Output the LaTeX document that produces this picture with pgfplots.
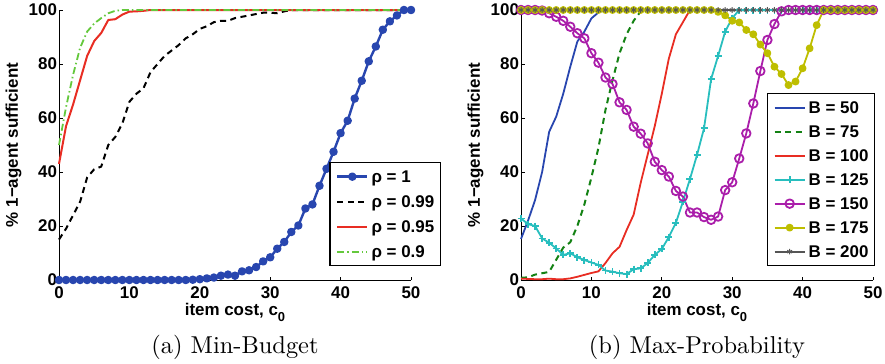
\documentclass[border=0pt]{standalone}
\usepackage{fontspec}
\usepackage{pgfplots}
\pgfplotsset{compat=1.18}
\newfontfamily\hv{Liberation Sans}
\definecolor{cblue}{RGB}{40,70,175}
\definecolor{cgreen}{RGB}{20,130,20}
\definecolor{cred}{RGB}{232,45,35}
\definecolor{ccyan}{RGB}{40,190,190}
\definecolor{cmag}{RGB}{170,30,170}
\definecolor{cyel}{RGB}{190,190,0}
\definecolor{cgray}{RGB}{85,85,85}
\definecolor{clgreen}{RGB}{100,200,60}
\newcommand{\tf}{\hv\bfseries\fontsize{17}{19}\selectfont}
\newcommand{\lf}{\hv\bfseries\fontsize{17}{19}\selectfont}
\pgfplotsset{
 myaxis/.style={
   scale only axis, width=352bp, height=270bp,
   xmin=0,xmax=50,ymin=0,ymax=100,
   xtick={0,10,...,50}, ytick={0,20,...,100},
   axis lines=left, axis line style={-, black, line width=1bp},
   tick align=inside, major tick length=3.5bp, tick style={black, line width=1bp},
   ticklabel style={font=\tf},
   /pgf/number format/assume math mode=true,
   xticklabel style={yshift=-3bp},
   yticklabel style={xshift=1.5bp},
   xlabel={item cost, c\raisebox{-6bp}{\fontsize{13}{13}\selectfont 0}},
   ylabel={\% 1−agent sufficient},
   label style={font=\lf},
   xlabel style={at={(axis description cs:0.5,0)}, anchor=base, yshift=-35bp},
   ylabel style={at={(axis description cs:-0.129,0.5)}, anchor=center},
   clip=false,
   legend cell align=left,
   legend style={font=\lf, draw=black, line width=1.3bp, inner xsep=6bp, inner ysep=6bp,
     column sep=3bp, nodes={inner sep=0pt, text height=14bp, text depth=2bp}},
   legend image code/.code={\draw[mark repeat=2, mark phase=2, #1] plot coordinates {(0bp,0bp) (15bp,0bp) (30bp,0bp)};},
   every axis plot/.append style={line join=round},
 }
}
\begin{document}
\begin{tikzpicture}
\useasboundingbox (0,0) rectangle (885bp,-364bp);
\begin{axis}[myaxis, at={(59bp,-280bp)}, anchor=south west,
  legend style={at={(axis description cs:1.085,0.437)}, anchor=north east, row sep=9bp}]
\addplot[cblue, line width=2.4bp, mark=*, mark size=3bp] coordinates {
(0,0)(1,0)(2,0)(3,0)(4,0)(5,0)(6,0)(7,0)(8,0)(9,0)(10,0)(11,0)(12,0)(13,0)(14,0)(15,0)(16,0)(17,0)(18,0)
(19,0.1)(20,0.3)(21,0.6)(22,0.9)(23,1.6)(24,2.0)(25,1.6)(26,3.2)(27,3.6)(28,4.8)(29,6.9)(30,8.4)
(31,11.6)(32,14.1)(33,17.8)(34,20.2)(35,26.5)(36,28.0)(37,34.9)(38,41.2)(39,47.5)(40,54.4)
(41,59.0)(42,67.2)(43,73.8)(44,81.0)(45,86.5)(46,92.7)(47,95.8)(48,98.0)(49,100)(50,100)};
\addplot[black, line width=2bp, dash pattern=on 6bp off 4.5bp] coordinates {
(0,15)(1,19)(2,24)(3,29)(4,38)(5,41)(6,42)(7,50)(8,53)(9,58)(10,66)(11,69)(12,71)(13,77)(14,80)
(15,83)(16,85)(17,87)(18,89.5)(19,91)(20,93)(21,94)(22,95.5)(23,96)(24,96)(25,97)(26,97.5)(27,98)
(28,98.5)(29,99)(30,99)(31,98.8)(32,99.5)(33,100)(34,100)(40,100)(45,100)(50,100)};
\addplot[cred, line width=2bp] coordinates {
(0,43)(1,57)(2,65)(3,74)(4,83)(5,88.5)(6,91.5)(7,96.3)(8,96.6)(9,98.3)(10,99.4)(11,99.5)(12,99.7)
(13,100)(20,100)(30,100)(40,100)(50,100)};
\addplot[clgreen, line width=1.8bp, dash pattern=on 7bp off 3bp on 1.5bp off 3bp] coordinates {
(0,50)(1,64)(2,76)(3,86)(4,92)(5,95)(6,97)(7,98.8)(8,99.7)(9,100)(20,100)(30,100)(40,100)(50,100)};
\legend{ρ = 1, ρ = 0.99, ρ = 0.95, ρ = 0.9}
\node[anchor=base, scale=2.45] at (axis cs:25,-27.4) {(a) Min-Budget};
\end{axis}
\begin{axis}[myaxis, at={(521bp,-280bp)}, anchor=south west,
  legend style={at={(axis description cs:1.006,0.6926)}, anchor=north east, row sep=8bp}]
\addplot[cblue, line width=1.8bp] coordinates {
(0,15.2)(1,22)(2,29.6)(3,40)(4,54.9)(5,60.5)(6,69)(7,79)(8,88.3)(9,92)(10,96.9)(11,99.1)(12,100)
(20,100)(30,100)(40,100)(50,100)};
\addplot[cgreen, line width=2bp, dash pattern=on 6bp off 4.5bp] coordinates {
(0,0.8)(1,1)(2,2)(3,2.5)(4,3)(5,7.5)(6,12)(7,14)(8,20)(9,28)(10,38)(11,49)(12,63)(13,74)(14,84)
(15,91)(16,96)(17,99.5)(18,100)(30,100)(40,100)(50,100)};
\addplot[cred, line width=1.8bp] coordinates {
(0,0.5)(1,0.4)(2,0.3)(3,0.3)(4,0.5)(5,0.3)(6,0.3)(7,0.6)(8,1.2)(9,1.9)(10,2.6)(11,3.2)(12,6.3)
(13,9.9)(14,12.3)(15,18.5)(16,24.2)(17,36)(18,46.5)(19,57)(20,69)(21,82)(22,91)(23,95.5)(24,100)
(30,100)(40,100)(50,100)};
\addplot[ccyan, line width=1.8bp, mark=+, mark size=3.5bp] coordinates {
(0,22.8)(1,20.7)(2,20)(3,15.4)(4,13.8)(5,11.7)(6,9.3)(7,9.9)(8,8.4)(9,7.4)(10,6.5)(11,5.6)(12,3.5)
(13,3.1)(14,2.5)(15,2.2)(16,4)(17,4.3)(18,6.3)(19,9.3)(20,11.5)(21,15.9)(22,21.2)(23,29)(24,37.4)
(25,46.3)(26,56.2)(27,74.4)(28,83)(29,92)(30,97)(31,100)(32,100)(33,100)(34,100)(35,100)(36,100)
(37,100)(38,100)(39,100)(40,100)(41,100)(42,100)(43,100)(44,100)(45,100)(46,100)(47,100)(48,100)(49,100)(50,100)};
\addplot[cmag, line width=1.8bp, mark=o, mark size=4.3bp] coordinates {
(0,100)(1,100)(2,100)(3,99.8)(4,98.8)(5,97.5)(6,96)(7,93.8)(8,91.4)(9,89.5)(10,84)(11,80.5)(12,75)
(13,72.6)(14,65.8)(15,63)(16,56.8)(17,54.2)(18,50.6)(19,43.8)(20,40.7)(21,38.3)(22,33)(23,30.9)
(24,25)(25,25)(26,23.3)(27,22.3)(28,23.5)(29,33.3)(30,36.2)(31,45)(32,54.3)(33,65.4)(34,77.4)
(35,88.9)(36,94.8)(37,99.5)(38,100)(39,100)(40,100)(41,100)(42,100)(43,100)(44,100)(45,100)(46,100)
(47,100)(48,100)(49,100)(50,100)};
\addplot[cyel, line width=1.8bp, mark=*, mark size=3bp] coordinates {
(0,100)(1,100)(2,100)(3,100)(4,100)(5,100)(6,100)(7,100)(8,100)(9,100)(10,100)(11,100)(12,100)
(13,100)(14,100)(15,100)(16,100)(17,100)(18,100)(19,100)(20,100)(21,100)(22,100)(23,100)(24,100)
(25,100)(26,100)(27,100)(28,99.3)(29,98)(30,96)(31,95.4)(32,92.6)(33,91)(34,87.2)(35,84)(36,79)
(37,76.3)(38,72.2)(39,73.5)(40,78.4)(41,85.8)(42,94.4)(43,100)(44,100)(45,100)(46,100)(47,100)
(48,100)(49,100)(50,100)};
\addplot[cgray, line width=1.8bp, mark=asterisk, mark size=2.8bp, mark options={line width=1bp}] coordinates {
(0,100)(1,100)(2,100)(3,100)(4,100)(5,100)(6,100)(7,100)(8,100)(9,100)(10,100)(11,100)(12,100)
(13,100)(14,100)(15,100)(16,100)(17,100)(18,100)(19,100)(20,100)(21,100)(22,100)(23,100)(24,100)
(25,100)(26,100)(27,100)(28,100)(29,100)(30,100)(31,100)(32,100)(33,100)(34,100)(35,100)(36,100)
(37,100)(38,100)(39,100)(40,100)(41,100)(42,100)(43,100)(44,100)(45,100)(46,100)(47,100)(48,100)
(49,100)(50,100)};
\legend{B = 50, B = 75, B = 100, B = 125, B = 150, B = 175, B = 200}
\node[anchor=base, scale=2.45] at (axis cs:25,-27.4) {(b) Max-Probability};
\end{axis}
\end{tikzpicture}
\end{document}
